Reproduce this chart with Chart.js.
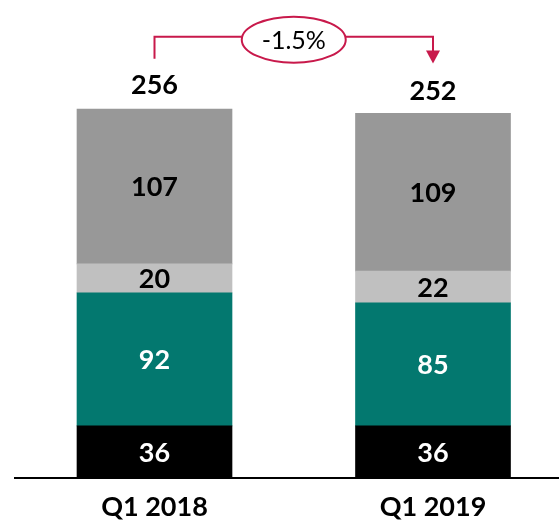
<!DOCTYPE html>
<html>
<head>
<meta charset="utf-8">
<script src="https://cdn.jsdelivr.net/npm/chart.js@4/dist/chart.umd.min.js"></script>
<style>
  html, body { margin: 0; padding: 0; background: #fff; }
  #wrap { width: 559px; height: 523px; }
</style>
</head>
<body>
<div id="wrap"><canvas id="chart"></canvas></div>
<script>
// values
const categories = ['Q1 2018', 'Q1 2019'];
const seriesBlack = [36, 36];
const seriesTeal = [92, 85];
const seriesLight = [20, 22];
const seriesGray = [107, 109];
const totals = [256, 252];
const changeLabel = '-1.5%';

const FONT = 'Lato, "Open Sans", sans-serif';
const RED = '#C8194B';

function pts(vals) {
  return vals.map((v, i) => ({x: i, y: v}));
}

// draws the numbers inside the bars and totals above
const labelPlugin = {
  id: 'labels',
  afterDatasetsDraw(chart) {
    const ctx = chart.ctx;
    ctx.save();
    ctx.textAlign = 'center';
    ctx.textBaseline = 'middle';
    ctx.font = 'bold 27px ' + FONT;
    chart.data.datasets.forEach((ds, di) => {
      const meta = chart.getDatasetMeta(di);
      meta.data.forEach((bar, i) => {
        ctx.fillStyle = ds.labelColor;
        ctx.fillText(ds.data[i].y, bar.x, (bar.y + bar.base) / 2 + 1);
      });
    });
    const yScale = chart.scales.y;
    const xScale = chart.scales.x;
    ctx.fillStyle = '#000';
    totals.forEach((t, i) => {
      ctx.fillText(t, xScale.getPixelForValue(i), yScale.getPixelForValue(t) - 22);
    });

    // change bracket with ellipse
    const xa = xScale.getPixelForValue(0);
    const xb = xScale.getPixelForValue(1);
    const ya = yScale.getPixelForValue(totals[0]) - 49;
    const yb = yScale.getPixelForValue(totals[1]) - 50;
    const yTop = yScale.getPixelForValue(totals[0]) - 71;
    const cx = (xa + xb) / 2;
    const rx = 52, ry = 23;
    ctx.strokeStyle = RED;
    ctx.lineWidth = 2;
    ctx.beginPath();
    ctx.moveTo(xa, ya);
    ctx.lineTo(xa, yTop);
    ctx.lineTo(cx - rx, yTop);
    ctx.moveTo(cx + rx, yTop);
    ctx.lineTo(xb, yTop);
    ctx.lineTo(xb, yb - 12);
    ctx.stroke();
    ctx.fillStyle = RED;
    ctx.beginPath();
    ctx.moveTo(xb - 7, yb - 13);
    ctx.lineTo(xb + 7, yb - 13);
    ctx.lineTo(xb, yb);
    ctx.closePath();
    ctx.fill();
    ctx.beginPath();
    ctx.ellipse(cx, yTop + 3, rx, ry, 0, 0, Math.PI * 2);
    ctx.fillStyle = '#fff';
    ctx.fill();
    ctx.stroke();
    ctx.fillStyle = '#000';
    ctx.font = '25px ' + FONT;
    ctx.fillText(changeLabel, cx, yTop + 4);
    ctx.restore();
  }
};

const chart = new Chart('chart', {
  type: 'bar',
  data: {
    datasets: [
      { data: pts(seriesBlack), backgroundColor: '#000000', labelColor: '#fff' },
      { data: pts(seriesTeal), backgroundColor: '#03786F', labelColor: '#fff' },
      { data: pts(seriesLight), backgroundColor: '#C0C0C0', labelColor: '#000' },
      { data: pts(seriesGray), backgroundColor: '#989898', labelColor: '#000' }
    ]
  },
  options: {
    responsive: true,
    maintainAspectRatio: false,
    animation: false,
    barThickness: 155,
    layout: { padding: { top: 44, left: 15, right: 0, bottom: 0 } },
    plugins: { legend: { display: false }, tooltip: { enabled: false } },
    scales: {
      x: {
        type: 'linear',
        stacked: true,
        offset: false,
        min: -0.5009,
        max: 1.4524,
        afterBuildTicks: (axis) => { axis.ticks = categories.map((c, i) => ({value: i})); },
        afterFit: (axis) => { axis.height = 45; },
        ticks: {
          callback: (v) => categories[v],
          color: '#000',
          font: { family: FONT, size: 27, weight: 'bold' },
          padding: 13,
          maxRotation: 0,
          autoSkip: false
        },
        grid: { display: false, drawTicks: false },
        border: { display: true, color: '#000', width: 2 }
      },
      y: {
        stacked: true,
        min: 0,
        max: 300,
        display: false
      }
    }
  },
  plugins: [labelPlugin]
});
</script>
</body>
</html>
